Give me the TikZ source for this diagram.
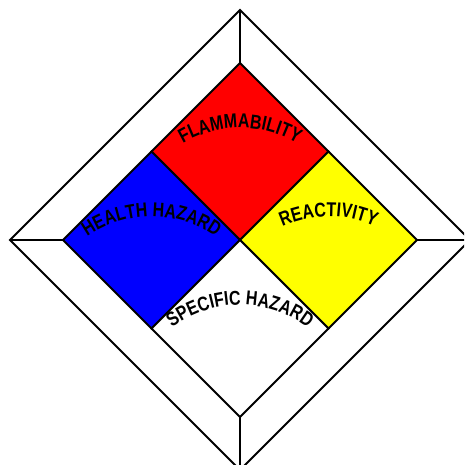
\documentclass[tikz,border=0pt]{standalone}
\usepackage{fontspec}
\setmainfont{Liberation Sans}
\newfontfamily\signfamily[FakeStretch=0.8]{Liberation Sans}
\usetikzlibrary{calc,decorations.text}
\newcommand{\signfont}{\signfamily\bfseries\fontsize{20}{20}\selectfont}
\definecolor{signyellow}{RGB}{255,255,0}

\begin{document}
\begin{tikzpicture}[x=1pt,y=1pt,line width=1.8pt,
  frame/.style={draw=black},
  arclabel/.style={decorate,decoration={text along path,text align=center,text={|\signfont|#1}}}]
  \useasboundingbox (0,0) rectangle (464,465);
  \clip (0,0) rectangle (464,465);
  % outer and inner corners
  \coordinate (c) at (240,225);
  \coordinate (ot) at (240,455); \coordinate (ol) at (10,225);
  \coordinate (or) at (470,225); \coordinate (ob) at (240,-5);
  \coordinate (it) at (240,402); \coordinate (il) at (63,225);
  \coordinate (ir) at (417,225); \coordinate (ib) at (240,48);
  \coordinate (ul) at (151.5,313.5); \coordinate (ur) at (328.5,313.5);
  \coordinate (ll) at (151.5,136.5); \coordinate (lr) at (328.5,136.5);
  % frame
  \draw[frame] (ot)--(or)--(ob)--(ol)--cycle;
  \draw[frame] (ot)--(it); \draw[frame] (ol)--(il);
  \draw[frame] (or)--(ir); \draw[frame] (ob)--(ib);
  % the four squares
  \filldraw[frame,fill=red] (it)--(ur)--(c)--(ul)--cycle;
  \filldraw[frame,fill=blue] (ul)--(c)--(ll)--(il)--cycle;
  \filldraw[frame,fill=signyellow] (ur)--(ir)--(lr)--(c)--cycle;
  \filldraw[frame,fill=white] (c)--(lr)--(ib)--(ll)--cycle;
  % labels
  \path[arclabel=FLAMMABILITY] ($(c)+(150:112)$) arc[start angle=150,end angle=30,radius=112];
  \path[arclabel=HEALTH HAZARD] ($(ll)+(150:112)$) arc[start angle=150,end angle=30,radius=112];
  \path[arclabel=REACTIVITY] ($(lr)+(150:112)$) arc[start angle=150,end angle=30,radius=112];
  \path[arclabel=SPECIFIC HAZARD] ($(ib)+(150:112)$) arc[start angle=150,end angle=30,radius=112];
\end{tikzpicture}
\end{document}
